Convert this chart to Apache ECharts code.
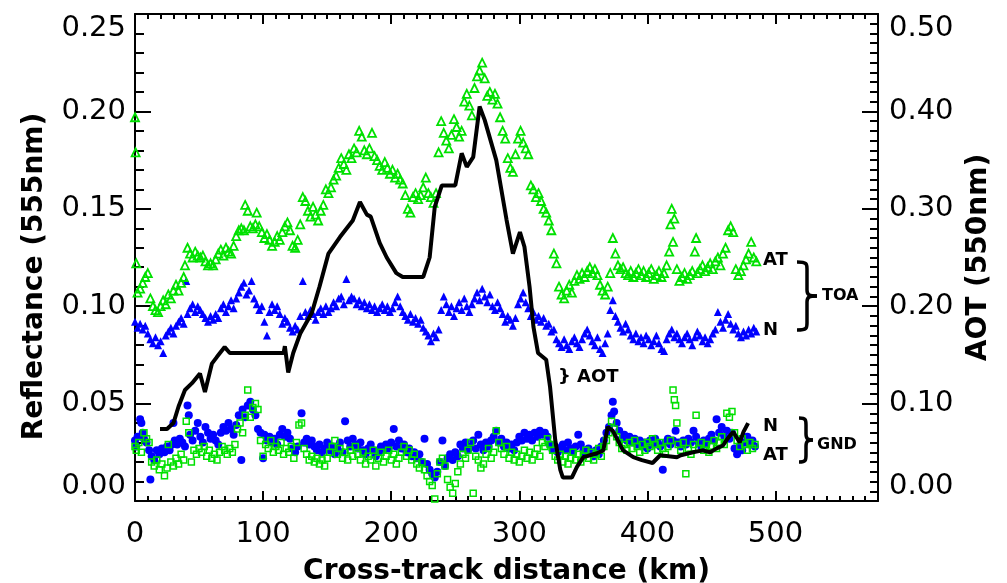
<!DOCTYPE html>
<html>
<head>
<meta charset="utf-8">
<script src="https://cdn.jsdelivr.net/npm/echarts@6/dist/echarts.min.js"></script>
<style>
  html, body { margin: 0; padding: 0; background: #fff; }
  #chart { width: 1007px; height: 583px; }
</style>
</head>
<body>
<div id="chart"></div>
<script>
// [cross-track km, reflectance]
const toaAT = [[0,0.197],[0.5,0.179],[1,0.122],[2,0.107],[4,0.109],[6,0.112],[8,0.115],[10,0.117],[12,0.104],[14,0.100],[16,0.098],[18,0.097],[20,0.100],[22,0.103],[24,0.101],[26,0.106],[28,0.104],[30,0.108],[32,0.111],[34,0.108],[36,0.112],[38,0.115],[39,0.121],[41,0.130],[43,0.127],[45,0.125],[47,0.128],[49,0.126],[51,0.125],[53,0.126],[55,0.123],[57,0.121],[59,0.122],[61,0.121],[63,0.124],[65,0.127],[67,0.129],[69,0.126],[71,0.130],[73,0.128],[75,0.127],[77,0.131],[79,0.136],[81,0.139],[83,0.140],[85,0.139],[86,0.152],[88,0.149],[90,0.141],[92,0.140],[94,0.142],[95,0.148],[97,0.141],[99,0.138],[101,0.135],[103,0.137],[105,0.134],[107,0.131],[109,0.133],[111,0.136],[113,0.134],[115,0.138],[117,0.141],[119,0.143],[121,0.139],[123,0.131],[125,0.130],[127,0.134],[129,0.142],[131,0.156],[133,0.154],[135,0.149],[137,0.146],[139,0.151],[141,0.147],[143,0.144],[145,0.149],[147,0.152],[149,0.160],[151,0.158],[153,0.161],[155,0.165],[157,0.167],[159,0.171],[161,0.176],[163,0.173],[165,0.170],[167,0.178],[169,0.176],[171,0.181],[173,0.179],[175,0.190],[177,0.187],[179,0.180],[181,0.178],[183,0.181],[185,0.189],[187,0.177],[189,0.175],[191,0.172],[193,0.170],[195,0.174],[197,0.171],[199,0.168],[201,0.170],[203,0.166],[205,0.168],[207,0.165],[209,0.163],[211,0.157],[213,0.150],[215,0.148],[217,0.156],[219,0.158],[221,0.155],[223,0.157],[225,0.161],[227,0.166],[229,0.158],[231,0.156],[233,0.153],[235,0.158],[237,0.179],[239,0.195],[241,0.189],[243,0.185],[245,0.181],[247,0.188],[249,0.196],[251,0.192],[253,0.187],[255,0.190],[257,0.205],[259,0.209],[261,0.203],[263,0.198],[265,0.212],[267,0.218],[269,0.221],[271,0.225],[273,0.217],[275,0.208],[277,0.210],[279,0.206],[281,0.209],[283,0.204],[285,0.197],[287,0.190],[289,0.186],[291,0.176],[293,0.171],[295,0.169],[297,0.178],[299,0.186],[301,0.190],[303,0.184],[305,0.181],[307,0.178],[309,0.162],[311,0.160],[313,0.156],[315,0.158],[317,0.154],[319,0.150],[321,0.148],[323,0.144],[325,0.139],[327,0.127],[329,0.122],[331,0.110],[333,0.106],[335,0.104],[337,0.108],[339,0.111],[341,0.107],[343,0.113],[345,0.116],[347,0.114],[349,0.117],[351,0.115],[353,0.118],[355,0.120],[357,0.117],[359,0.119],[361,0.116],[363,0.111],[365,0.108],[367,0.106],[369,0.110],[371,0.117],[373,0.135],[375,0.127],[377,0.121],[379,0.119],[381,0.120],[383,0.117],[385,0.116],[387,0.118],[389,0.115],[391,0.117],[393,0.119],[395,0.116],[397,0.118],[399,0.115],[401,0.117],[403,0.119],[405,0.114],[407,0.116],[409,0.118],[411,0.115],[413,0.117],[415,0.121],[417,0.128],[418,0.142],[419,0.150],[420,0.133],[421,0.145],[423,0.119],[425,0.113],[427,0.115],[429,0.117],[431,0.114],[433,0.116],[435,0.118],[437,0.128],[438,0.135],[439,0.117],[441,0.119],[443,0.121],[445,0.118],[447,0.120],[449,0.122],[451,0.119],[453,0.123],[455,0.125],[457,0.121],[459,0.127],[461,0.130],[463,0.139],[465,0.141],[467,0.138],[469,0.119],[471,0.116],[473,0.118],[475,0.121],[477,0.124],[479,0.127],[481,0.133],[483,0.125],[485,0.123]];

const toaN = [[0,0.092],[2,0.089],[4,0.091],[6,0.088],[8,0.090],[10,0.086],[12,0.083],[14,0.081],[16,0.084],[18,0.080],[20,0.082],[22,0.076],[24,0.085],[26,0.087],[28,0.089],[30,0.086],[32,0.090],[34,0.092],[36,0.094],[38,0.091],[40,0.113],[41,0.096],[43,0.099],[45,0.101],[47,0.097],[49,0.100],[51,0.098],[53,0.096],[55,0.094],[57,0.092],[59,0.095],[61,0.093],[63,0.096],[65,0.094],[67,0.099],[69,0.101],[71,0.097],[73,0.100],[75,0.103],[77,0.099],[79,0.104],[81,0.107],[83,0.110],[85,0.112],[87,0.106],[89,0.108],[91,0.113],[93,0.104],[95,0.101],[97,0.098],[99,0.100],[101,0.092],[103,0.085],[105,0.097],[107,0.101],[109,0.098],[111,0.100],[113,0.096],[115,0.091],[117,0.094],[119,0.092],[121,0.089],[123,0.087],[125,0.090],[127,0.088],[129,0.095],[131,0.113],[133,0.097],[135,0.095],[137,0.098],[139,0.096],[141,0.093],[143,0.097],[145,0.099],[147,0.096],[149,0.100],[151,0.097],[153,0.099],[155,0.102],[157,0.100],[159,0.104],[161,0.105],[163,0.101],[165,0.114],[167,0.103],[169,0.105],[171,0.104],[173,0.101],[175,0.103],[177,0.100],[179,0.102],[181,0.099],[183,0.101],[185,0.098],[187,0.100],[189,0.097],[191,0.099],[193,0.101],[195,0.098],[197,0.100],[199,0.097],[201,0.099],[203,0.102],[205,0.105],[207,0.100],[209,0.097],[211,0.095],[213,0.093],[215,0.096],[217,0.092],[219,0.094],[221,0.091],[223,0.093],[225,0.089],[227,0.087],[229,0.085],[231,0.082],[233,0.086],[235,0.084],[237,0.088],[239,0.098],[241,0.105],[243,0.101],[245,0.097],[247,0.100],[249,0.095],[251,0.099],[253,0.102],[255,0.098],[257,0.104],[259,0.100],[261,0.097],[263,0.101],[265,0.104],[267,0.107],[269,0.103],[271,0.109],[273,0.105],[275,0.102],[277,0.106],[279,0.100],[281,0.098],[283,0.102],[285,0.099],[287,0.096],[289,0.092],[291,0.095],[293,0.093],[295,0.090],[297,0.094],[299,0.101],[301,0.104],[303,0.107],[305,0.102],[307,0.099],[309,0.095],[311,0.097],[313,0.093],[315,0.095],[317,0.092],[319,0.094],[321,0.090],[323,0.091],[325,0.087],[327,0.088],[329,0.083],[331,0.081],[333,0.079],[335,0.083],[337,0.080],[339,0.078],[341,0.082],[343,0.084],[345,0.081],[347,0.079],[349,0.083],[351,0.086],[353,0.088],[355,0.085],[357,0.082],[359,0.080],[361,0.084],[363,0.078],[365,0.076],[367,0.081],[369,0.086],[371,0.098],[373,0.103],[375,0.095],[377,0.092],[379,0.089],[381,0.087],[383,0.091],[385,0.088],[387,0.085],[389,0.083],[391,0.086],[393,0.082],[395,0.084],[397,0.081],[399,0.085],[401,0.083],[403,0.080],[405,0.082],[407,0.085],[409,0.081],[411,0.078],[413,0.077],[415,0.083],[417,0.086],[419,0.088],[421,0.084],[423,0.086],[425,0.083],[427,0.081],[429,0.084],[431,0.086],[433,0.083],[435,0.080],[437,0.084],[439,0.087],[441,0.085],[443,0.082],[445,0.084],[447,0.081],[449,0.083],[451,0.086],[453,0.088],[455,0.097],[457,0.092],[459,0.089],[461,0.093],[463,0.096],[465,0.091],[467,0.088],[469,0.090],[471,0.086],[473,0.084],[475,0.087],[477,0.085],[479,0.088],[481,0.086],[483,0.089],[485,0.087]];

const gndN = [[0,0.031],[1,0.028],[2,0.033],[4,0.042],[5,0.040],[6,0.035],[7,0.032],[9,0.030],[11,0.026],[12,0.011],[13,0.023],[15,0.021],[17,0.026],[19,0.024],[21,0.027],[23,0.025],[25,0.028],[27,0.026],[29,0.029],[30,0.040],[31,0.031],[33,0.029],[35,0.032],[37,0.030],[39,0.028],[41,0.049],[42,0.044],[43,0.034],[45,0.031],[47,0.036],[49,0.040],[51,0.033],[53,0.030],[55,0.038],[57,0.035],[59,0.032],[61,0.034],[63,0.031],[65,0.029],[67,0.035],[69,0.038],[71,0.036],[73,0.040],[75,0.037],[77,0.034],[79,0.039],[81,0.044],[83,0.021],[84,0.047],[86,0.043],[88,0.049],[90,0.051],[92,0.047],[94,0.044],[96,0.037],[98,0.035],[100,0.022],[101,0.034],[103,0.031],[105,0.033],[107,0.030],[109,0.032],[111,0.029],[113,0.034],[115,0.037],[117,0.033],[119,0.035],[121,0.032],[123,0.027],[125,0.025],[127,0.028],[130,0.045],[132,0.030],[134,0.032],[136,0.029],[138,0.031],[140,0.028],[142,0.026],[144,0.029],[146,0.025],[148,0.027],[150,0.030],[152,0.026],[154,0.028],[156,0.024],[158,0.027],[160,0.030],[162,0.025],[164,0.041],[166,0.031],[168,0.028],[170,0.032],[172,0.029],[174,0.027],[176,0.030],[178,0.026],[180,0.024],[182,0.027],[184,0.029],[186,0.026],[188,0.023],[190,0.025],[192,0.028],[194,0.026],[196,0.029],[198,0.027],[200,0.030],[202,0.037],[204,0.028],[206,0.031],[208,0.027],[210,0.029],[212,0.025],[214,0.027],[216,0.023],[218,0.025],[220,0.022],[222,0.024],[224,0.020],[226,0.032],[228,0.019],[230,0.016],[232,0.014],[234,0.012],[236,0.015],[238,0.020],[240,0.031],[242,0.018],[244,0.022],[246,0.024],[248,0.021],[250,0.025],[252,0.023],[254,0.029],[256,0.027],[258,0.030],[260,0.026],[262,0.028],[264,0.031],[266,0.027],[268,0.034],[270,0.029],[272,0.026],[274,0.030],[276,0.028],[278,0.031],[280,0.033],[282,0.036],[284,0.030],[286,0.032],[288,0.028],[290,0.030],[292,0.027],[294,0.029],[296,0.026],[298,0.030],[300,0.033],[302,0.031],[304,0.035],[306,0.032],[308,0.034],[310,0.031],[312,0.035],[314,0.033],[316,0.036],[318,0.034],[320,0.035],[322,0.033],[324,0.029],[326,0.026],[328,0.028],[330,0.025],[332,0.027],[334,0.029],[336,0.026],[338,0.030],[340,0.027],[342,0.025],[344,0.028],[346,0.034],[348,0.029],[350,0.026],[352,0.024],[354,0.027],[356,0.025],[358,0.023],[360,0.026],[362,0.024],[364,0.028],[366,0.031],[368,0.035],[370,0.038],[372,0.044],[373,0.051],[374,0.046],[376,0.040],[378,0.036],[380,0.032],[382,0.034],[384,0.031],[386,0.033],[388,0.030],[390,0.032],[392,0.029],[394,0.031],[396,0.028],[398,0.030],[400,0.027],[402,0.031],[404,0.029],[406,0.032],[408,0.030],[410,0.028],[412,0.016],[414,0.030],[416,0.032],[418,0.029],[420,0.031],[422,0.036],[424,0.030],[426,0.028],[428,0.031],[430,0.029],[432,0.032],[434,0.030],[436,0.036],[438,0.033],[440,0.030],[442,0.028],[444,0.031],[446,0.029],[448,0.032],[450,0.034],[452,0.031],[454,0.042],[456,0.035],[458,0.038],[460,0.033],[462,0.036],[464,0.032],[466,0.035],[468,0.027],[470,0.024],[472,0.028],[474,0.026],[476,0.030],[478,0.033],[480,0.029],[482,0.031],[484,0.028]];

const gndAT = [[0,0.028],[1,0.026],[3,0.030],[5,0.025],[7,0.035],[9,0.032],[11,0.030],[13,0.020],[15,0.018],[17,0.021],[19,0.016],[21,0.019],[23,0.013],[25,0.017],[26,0.029],[28,0.020],[30,0.018],[32,0.022],[34,0.019],[36,0.024],[38,0.021],[40,0.041],[42,0.035],[44,0.020],[46,0.026],[48,0.024],[50,0.027],[52,0.025],[54,0.028],[56,0.023],[58,0.026],[60,0.022],[62,0.024],[64,0.021],[66,0.025],[68,0.028],[70,0.026],[72,0.024],[74,0.027],[76,0.025],[78,0.029],[80,0.037],[82,0.040],[84,0.035],[86,0.044],[88,0.057],[90,0.043],[92,0.048],[94,0.050],[96,0.047],[98,0.031],[100,0.023],[102,0.029],[104,0.027],[106,0.031],[108,0.025],[110,0.028],[112,0.026],[114,0.030],[116,0.024],[118,0.027],[120,0.025],[122,0.028],[124,0.022],[126,0.030],[128,0.039],[130,0.040],[132,0.027],[134,0.024],[136,0.021],[138,0.023],[140,0.020],[142,0.022],[144,0.019],[146,0.021],[148,0.018],[150,0.022],[152,0.025],[154,0.028],[156,0.031],[158,0.024],[160,0.027],[162,0.022],[164,0.025],[166,0.021],[168,0.026],[170,0.023],[172,0.028],[174,0.024],[176,0.021],[178,0.025],[180,0.019],[182,0.023],[184,0.021],[186,0.026],[188,0.018],[190,0.022],[192,0.025],[194,0.020],[196,0.023],[198,0.026],[200,0.021],[202,0.024],[204,0.019],[206,0.022],[208,0.025],[210,0.028],[212,0.023],[214,0.026],[216,0.021],[218,0.024],[220,0.019],[222,0.017],[224,0.020],[226,0.016],[228,0.013],[230,0.010],[232,0.008],[234,0.001],[236,0.014],[238,0.020],[240,0.022],[242,0.018],[244,0.011],[246,0.007],[248,0.004],[250,0.009],[252,0.015],[254,0.019],[256,0.024],[258,0.022],[260,0.026],[262,0.030],[264,0.004],[266,0.023],[268,0.021],[270,0.017],[272,0.019],[274,0.024],[276,0.027],[278,0.022],[280,0.025],[282,0.036],[284,0.030],[286,0.027],[288,0.024],[290,0.028],[292,0.022],[294,0.025],[296,0.021],[298,0.024],[300,0.020],[302,0.023],[304,0.026],[306,0.022],[308,0.025],[310,0.021],[312,0.024],[314,0.027],[316,0.023],[318,0.030],[320,0.028],[322,0.032],[324,0.029],[326,0.026],[328,0.023],[330,0.021],[332,0.024],[334,0.020],[336,0.023],[338,0.019],[340,0.022],[342,0.025],[344,0.021],[346,0.024],[348,0.020],[350,0.023],[352,0.026],[354,0.022],[356,0.025],[358,0.021],[360,0.024],[362,0.027],[364,0.023],[366,0.028],[368,0.031],[370,0.035],[372,0.041],[374,0.037],[376,0.033],[378,0.030],[380,0.027],[382,0.029],[384,0.026],[386,0.030],[388,0.027],[390,0.031],[392,0.028],[394,0.025],[396,0.029],[398,0.026],[400,0.030],[402,0.028],[404,0.032],[406,0.029],[408,0.026],[410,0.030],[412,0.027],[414,0.024],[416,0.028],[418,0.031],[420,0.057],[421,0.052],[422,0.049],[423,0.040],[424,0.029],[426,0.026],[428,0.030],[430,0.014],[432,0.027],[434,0.024],[436,0.029],[438,0.044],[440,0.027],[442,0.030],[444,0.026],[446,0.029],[448,0.025],[450,0.028],[452,0.031],[454,0.027],[456,0.030],[458,0.033],[460,0.029],[462,0.045],[464,0.043],[466,0.046],[468,0.035],[470,0.031],[472,0.028],[474,0.032],[476,0.029],[478,0.026],[480,0.030],[482,0.027],[484,0.029]];

// [cross-track km, AOT] on the right axis
const aot = [[19.5,0.074],[25,0.074],[30,0.080],[34,0.097],[39,0.114],[44.5,0.121],[50.7,0.131],[54.6,0.112],[60,0.141],[64,0.148],[70,0.158],[74,0.152],[116,0.152],[117,0.159],[119.6,0.132],[123.5,0.152],[129,0.172],[138,0.193],[144,0.220],[151,0.254],[160,0.271],[170,0.288],[175.6,0.307],[181,0.294],[184,0.292],[191,0.265],[196.5,0.250],[204,0.234],[209,0.230],[225,0.230],[230,0.250],[234,0.302],[239.5,0.324],[250,0.324],[255,0.357],[259,0.343],[264,0.353],[269,0.405],[273,0.391],[282,0.350],[290,0.289],[295,0.254],[300.5,0.276],[304,0.261],[308,0.220],[311,0.179],[314.6,0.152],[321,0.145],[324,0.117],[328,0.063],[332,0.032],[334,0.024],[341,0.024],[345,0.035],[350,0.045],[360.6,0.049],[365.6,0.052],[369,0.076],[373,0.072],[381,0.052],[389,0.045],[395.7,0.042],[404,0.039],[410,0.047],[423,0.045],[426,0.047],[435.6,0.050],[443,0.052],[449,0.050],[454,0.054],[459,0.057],[462,0.063],[467,0.071],[472,0.060],[475,0.071],[478.6,0.080]];

const GREEN = '#00e000';
const BLUE = '#0000ff';
const FONT = 'DejaVu Sans';

const chart = echarts.init(document.getElementById('chart'));

// onZero off so every axis keeps its own edge of the frame
const line = { onZero: false, lineStyle: { color: '#000', width: 2 } };
const tick = len => ({ inside: true, length: len, lineStyle: { color: '#000', width: 2 } });
const xBase = { type: 'value', min: 0, max: 580, splitLine: { show: false } };
// tick-only axis, used for the short in-between ticks
const minorAxis = (pos, max, step, len) => ({
  type: 'value', position: pos, min: 0, max: max, interval: step,
  axisLine: { show: false, onZero: false }, axisLabel: { show: false },
  splitLine: { show: false }, axisTick: tick(len)
});
const stroke = { stroke: '#000', lineWidth: 3.5, fill: null };

// curly brace opening to the left, tip pointing right
function brace(x, y, w, h) {
  const m = x + w / 2, c = y + h / 2, b = y + h;
  const seg = (x1, y1, c1x, c1y, c2x, c2y, x2, y2) => ({
    type: 'bezierCurve', silent: true, style: stroke,
    shape: { x1, y1, cpx1: c1x, cpy1: c1y, cpx2: c2x, cpy2: c2y, x2, y2 }
  });
  const bar = (y1, y2) => ({ type: 'line', silent: true, style: stroke, shape: { x1: m, y1, x2: m, y2 } });
  return {
    type: 'group',
    children: [
      seg(x, y, m, y, m, y + 2, m, y + 7),
      bar(y + 7, c - 6),
      seg(m, c - 6, m, c - 1, m + 2, c, x + w, c),
      seg(x + w, c, m + 2, c, m, c + 1, m, c + 6),
      bar(c + 6, b - 7),
      seg(m, b - 7, m, b - 2, m, b, x, b)
    ]
  };
}
function label(text, x, y, size) {
  return {
    type: 'text', x: x, y: y, silent: true,
    style: { text: text, font: `bold ${size}px "${FONT}"`, fill: '#000',
             align: 'left', verticalAlign: 'middle', textAlign: 'left', textVerticalAlign: 'middle' }
  };
}

chart.setOption({
  animation: false,
  backgroundColor: '#fff',
  textStyle: { fontFamily: FONT, color: '#000' },
  grid: { left: 135, right: 129, top: 14, bottom: 82, containLabel: false, outerBoundsMode: 'none' },
  xAxis: [
    Object.assign({}, xBase, {
      position: 'bottom', interval: 100,
      name: 'Cross-track distance (km)', nameLocation: 'middle', nameGap: 57,
      nameTextStyle: { fontSize: 28, fontWeight: 'bold', fontFamily: FONT, color: '#000' },
      axisLine: line, axisTick: tick(10),
      axisLabel: { fontSize: 29, color: '#000', margin: 19, showMaxLabel: false, fontFamily: FONT }
    }),
    minorAxis('bottom', 580, 10, 5),
    Object.assign({}, xBase, {
      position: 'top', interval: 100,
      axisLine: line, axisLabel: { show: false }, axisTick: tick(10)
    }),
    minorAxis('top', 580, 10, 5)
  ],
  yAxis: [
    {
      type: 'value', position: 'left', min: 0, max: 0.25, interval: 0.05,
      name: 'Reflectance (555nm)', nameLocation: 'middle', nameGap: 86,
      nameTextStyle: { fontSize: 28, fontWeight: 'bold', fontFamily: FONT, color: '#000', padding: [0, 38, 0, 0] },
      axisLine: Object.assign({ show: true }, line),
      axisTick: tick(16),
      axisLabel: { fontSize: 29, color: '#000', margin: 9, fontFamily: FONT,
                   verticalAlignMinLabel: 'bottom', verticalAlignMaxLabel: 'top',
                   formatter: v => v.toFixed(2) },
      splitLine: { show: false }
    },
    {
      type: 'value', position: 'right', min: 0, max: 0.5, interval: 0.1,
      name: 'AOT (550nm)', nameLocation: 'middle', nameGap: 84,
      nameTextStyle: { fontSize: 28, fontWeight: 'bold', fontFamily: FONT, color: '#000' },
      axisLine: Object.assign({ show: true }, line),
      axisTick: tick(16),
      axisLabel: { fontSize: 29, color: '#000', margin: 11, fontFamily: FONT,
                   verticalAlignMinLabel: 'bottom', verticalAlignMaxLabel: 'top',
                   formatter: v => v.toFixed(2) },
      splitLine: { show: false }
    },
    minorAxis('left', 0.25, 0.01, 9),
    minorAxis('right', 0.5, 0.01, 8)
  ],
  series: [
    { name: 'TOA N', type: 'scatter', data: toaN, symbol: 'triangle', symbolSize: 8,
      itemStyle: { color: BLUE, opacity: 1 } },
    { name: 'TOA AT', type: 'scatter', data: toaAT, symbol: 'triangle', symbolSize: 8,
      itemStyle: { color: 'rgba(0,0,0,0)', borderColor: GREEN, borderWidth: 1.8, opacity: 1 } },
    { name: 'GND N', type: 'scatter', data: gndN, symbol: 'circle', symbolSize: 8,
      itemStyle: { color: BLUE, opacity: 1 } },
    { name: 'GND AT', type: 'scatter', data: gndAT, symbol: 'rect', symbolSize: 6,
      itemStyle: { color: 'rgba(0,0,0,0)', borderColor: GREEN, borderWidth: 1.5, opacity: 1 } },
    { name: 'AOT', type: 'line', yAxisIndex: 1, data: aot, symbol: 'none',
      lineStyle: { color: '#000', width: 4 }, z: 5 }
  ],
  graphic: [
    label('AT', 763, 260, 18),
    label('N', 763, 330, 18),
    brace(797, 262, 20, 68),
    label('TOA', 822, 296, 16),
    label('} AOT', 558, 377, 18),
    label('N', 763, 426, 18),
    label('AT', 763, 455, 18),
    brace(799, 418, 14, 44),
    label('GND', 817, 445, 16)
  ]
});
</script>
</body>
</html>
